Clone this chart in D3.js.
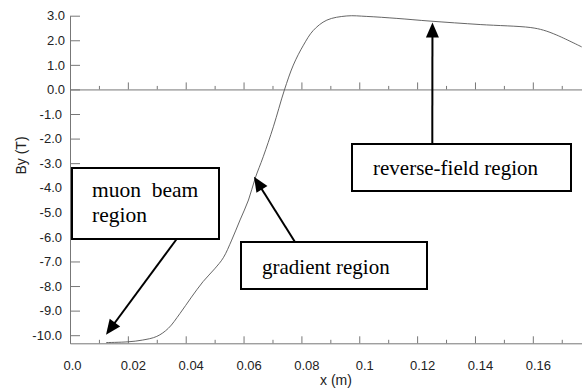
<!DOCTYPE html>
<html>
<head>
<meta charset="utf-8">
<script src="https://cdn.jsdelivr.net/npm/d3@7"></script>
<style>
  html, body { margin: 0; padding: 0; background: #fff; }
  svg { display: block; }
</style>
</head>
<body>
<svg id="chart" width="582" height="389"></svg>
<script>
// ---- data ----
const curveX = [0.0125, 0.02, 0.025, 0.03, 0.034, 0.038, 0.042, 0.046, 0.05, 0.053, 0.0559,
  0.0588, 0.0617, 0.064, 0.0668, 0.0703, 0.0741, 0.0772, 0.0807, 0.0841, 0.0888, 0.0957, 0.1026,
  0.113, 0.1245, 0.1418, 0.1591, 0.1637, 0.1683, 0.1769];
const curveY = [-10.3, -10.27, -10.2, -10.05, -9.72, -9.12, -8.45, -7.82, -7.3, -6.85, -6.13,
  -5.31, -4.5, -3.62, -2.74, -1.52, -0.03, 0.99, 1.80, 2.40, 2.82, 2.99, 2.97,
  2.89, 2.78, 2.64, 2.52, 2.41, 2.21, 1.73];
const xMajorTicks = [0, 0.02, 0.04, 0.06, 0.08, 0.10, 0.12, 0.14, 0.16];
const xTickLabels = ["0.0", "0.02", "0.04", "0.06", "0.08", "0.1", "0.12", "0.14", "0.16"];
const xMinorTicks = [0.01, 0.03, 0.05, 0.07, 0.09, 0.11, 0.13, 0.15, 0.17];
const yTicks = [3, 2, 1, 0, -1, -2, -3, -4, -5, -6, -7, -8, -9, -10];
const yTickLabels = ["3.0", "2.0", "1.0", "0.0", "-1.0", "-2.0", "-3.0", "-4.0", "-5.0", "-6.0",
  "-7.0", "-8.0", "-9.0", "-10.0"];
const xDomain = [0, 0.177];
const yDomain = [-10.33, 3.0];
const annotationTexts = [["muon  beam", "region"], ["gradient region"], ["reverse-field region"]];
const annotationTips = [[0.01245, -9.98], [0.0636, -3.55], [0.1253, 2.72]];

// ---- layout ----
const svg = d3.select("#chart");
const L = 70, R = 582, T = 15.7, B = 343.3;
const x = d3.scaleLinear().domain(xDomain).range([L, R]);
const y = d3.scaleLinear().domain(yDomain).range([B, T]);
const axisColor = "#777";
const textColor = "#222";
const sans = "'Liberation Sans', Arial, Helvetica, sans-serif";
const serif = "'Liberation Serif', 'Times New Roman', serif";

// Y axis
const yAxis = d3.axisLeft(y).tickValues(yTicks)
  .tickFormat((d, i) => yTickLabels[i]).tickSize(-10).tickSizeOuter(0).tickPadding(5);
const gy = svg.append("g").attr("transform", `translate(${L},0)`).call(yAxis);
gy.select(".domain").attr("stroke", axisColor);
gy.selectAll(".tick line").attr("stroke", axisColor);
gy.selectAll(".tick text").attr("font-family", sans).attr("font-size", 13).attr("fill", textColor)
  .attr("dx", d => d < 0 ? -3 : 0);

// Bottom axis and zero line (both with upward ticks)
function hAxis(yPos, withLabels) {
  const g = svg.append("g").attr("transform", `translate(0,${yPos})`);
  const major = d3.axisBottom(x).tickValues(xMajorTicks)
    .tickFormat((d, i) => withLabels ? xTickLabels[i] : "")
    .tickSize(-7).tickSizeOuter(0).tickPadding(17);
  const gm = g.append("g").call(major);
  gm.select(".domain").attr("stroke", axisColor);
  gm.selectAll(".tick line").attr("stroke", axisColor);
  gm.selectAll(".tick text").attr("font-family", sans).attr("font-size", 13)
    .attr("fill", textColor).attr("dx", d => d === 0 ? 2 : 5);
  const minor = d3.axisBottom(x).tickValues(xMinorTicks).tickFormat("")
    .tickSize(-3.5).tickSizeOuter(0);
  const gn = g.append("g").call(minor);
  gn.select(".domain").remove();
  gn.selectAll(".tick line").attr("stroke", axisColor);
}
hAxis(y(0), false);
hAxis(B, true);

// Curve
const pts = curveX.map((v, i) => [v, curveY[i]]);
svg.append("path").datum(pts)
  .attr("d", d3.line().x(d => x(d[0])).y(d => y(d[1])).curve(d3.curveCatmullRom.alpha(0.5)))
  .attr("fill", "none").attr("stroke", "#555").attr("stroke-width", 0.9);

// Axis titles
svg.append("text").attr("x", 336).attr("y", 385).attr("text-anchor", "middle")
  .attr("font-family", sans).attr("font-size", 14).attr("fill", textColor).text("x (m)");
svg.append("text").attr("transform", "translate(26,155.5) rotate(-90)").attr("text-anchor", "middle")
  .attr("font-family", sans).attr("font-size", 14).attr("fill", textColor).text("By (T)");

// Annotation boxes
const boxes = [
  { x0: 72, y0: 168, x1: 219, y1: 239, tx: 92, ty: [197, 222], from: [176.7, 239], fs: 21.5 },
  { x0: 241, y0: 242, x1: 427, y1: 289, tx: 262, ty: [273.5], from: [295, 242], fs: 21 },
  { x0: 352, y0: 144, x1: 571, y1: 191, tx: 373, ty: [174.5], from: [432.3, 144], fs: 21 }
];
boxes.forEach((b, i) => {
  svg.append("rect").attr("x", b.x0).attr("y", b.y0)
    .attr("width", b.x1 - b.x0).attr("height", b.y1 - b.y0)
    .attr("fill", "#fff").attr("stroke", "#000").attr("stroke-width", 2);
  annotationTexts[i].forEach((t, j) => {
    svg.append("text").attr("x", b.tx).attr("y", b.ty[j]).attr("font-family", serif)
      .attr("font-size", b.fs).attr("fill", "#000").style("white-space", "pre").text(t);
  });
  // arrow
  const tip = [x(annotationTips[i][0]), y(annotationTips[i][1])];
  const dx = tip[0] - b.from[0], dy = tip[1] - b.from[1];
  const len = Math.hypot(dx, dy), ux = dx / len, uy = dy / len;
  const hl = 15, hw = 6.5;
  const base = [tip[0] - ux * hl, tip[1] - uy * hl];
  svg.append("line").attr("x1", b.from[0]).attr("y1", b.from[1])
    .attr("x2", base[0] + ux * 2).attr("y2", base[1] + uy * 2)
    .attr("stroke", "#000").attr("stroke-width", 2);
  svg.append("polygon").attr("points", [
    tip, [base[0] - uy * hw, base[1] + ux * hw], [base[0] + uy * hw, base[1] - ux * hw]
  ].map(p => p.join(",")).join(" ")).attr("fill", "#000");
});
</script>
</body>
</html>
